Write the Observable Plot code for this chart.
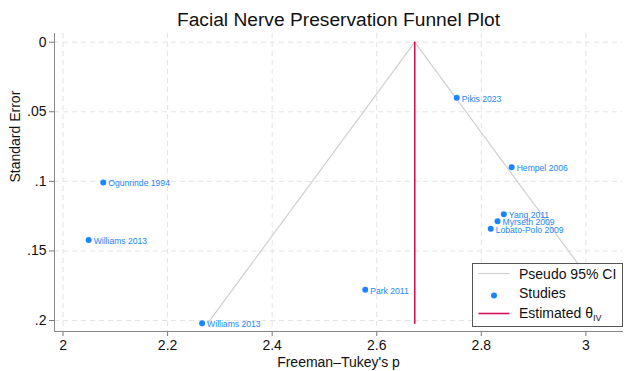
<!DOCTYPE html>
<html>
<head>
<meta charset="utf-8">
<script src="https://cdn.jsdelivr.net/npm/d3@7"></script>
<script src="https://cdn.jsdelivr.net/npm/@observablehq/plot@0.6"></script>
<style>
  html, body { margin: 0; padding: 0; background: #fff; }
  #chart svg { display: block; }
</style>
</head>
<body>
<div id="chart"></div>
<script>
// ---- data ----
const studies = ["Pikis 2023", "Hempel 2006", "Ogunrinde 1994", "Williams 2013", "Williams 2013",
                 "Park 2011", "Yang 2011", "Myrseth 2009", "Lobato-Polo 2009"];
const effect  = [2.753, 2.858, 2.077, 2.049, 2.266, 2.578, 2.843, 2.831, 2.818];
const stdErr  = [0.0400, 0.0898, 0.1008, 0.1422, 0.2019, 0.1779, 0.1236, 0.1286, 0.1341];
const thetaIV = 2.6727;
const xTicks = [2, 2.2, 2.4, 2.6, 2.8, 3];
const yTicks = [0, 0.05, 0.1, 0.15, 0.2];

const titleText = "Facial Nerve Preservation Funnel Plot";
const xLabel = "Freeman\u2013Tukey's p";
const yLabel = "Standard Error";

// ---- derived ----
const points = studies.map((s, i) => ({study: s, es: effect[i], se: stdErr[i]}));
const seMax = d3.max(stdErr);
const funnel = [
  {x: thetaIV - 1.96 * seMax, y: seMax},
  {x: thetaIV, y: 0},
  {x: thetaIV + 1.96 * seMax, y: seMax}
];
const estLine = [{x: thetaIV, y: 0}, {x: thetaIV, y: seMax}];

const blue = "#1a85ff";
const red = "#d41159";
const gray = "#cfcfcf";
const font = "'Liberation Sans', Arial, Helvetica, sans-serif";

const W = 624, H = 371;
const mL = 54, mT = 33, mB = 40, mR = 2;

const yFmt = d => d === 0 ? "0" : String(d).replace(/^0/, "");
const xFmt = d => String(d);

const chart = Plot.plot({
  width: W, height: H,
  marginLeft: mL, marginTop: mT, marginBottom: mB, marginRight: mR,
  style: {fontFamily: font, background: "#fff", overflow: "visible"},
  x: {domain: [1.9837, 3.070]},
  y: {domain: [-0.00625, 0.2079], reverse: true},
  marks: [
    Plot.gridX(xTicks, {stroke: "#e3e3e3", strokeOpacity: 1, strokeDasharray: "5,4"}),
    Plot.gridY(yTicks, {stroke: "#e3e3e3", strokeOpacity: 1, strokeDasharray: "5,4"}),
    Plot.axisX(xTicks, {tickSize: 5, tickPadding: 4, fontSize: 14, stroke: "#777", fill: "#111", label: null, tickFormat: xFmt}),
    Plot.axisY(yTicks, {tickSize: 5, tickPadding: 3, fontSize: 14, stroke: "#777", fill: "#111", label: null, tickFormat: yFmt}),
    Plot.frame({anchor: "left", stroke: "#888"}),
    Plot.frame({anchor: "bottom", stroke: "#888"}),
    Plot.line(funnel, {x: "x", y: "y", stroke: gray, strokeWidth: 1.2}),
    Plot.line(estLine, {x: "x", y: "y", stroke: red, strokeWidth: 1.6}),
    Plot.dot(points, {x: "es", y: "se", r: 3, fill: blue, stroke: "none"}),
    Plot.text(points, {x: "es", y: "se", text: "study", dx: 5, dy: 1, textAnchor: "start", fontSize: 8.6, fill: blue}),
    Plot.text([titleText], {frameAnchor: "top", dy: -14, fontSize: 19.2, fill: "#111", lineAnchor: "middle"}),
    Plot.text([xLabel], {frameAnchor: "bottom", dy: 31, fontSize: 14, fill: "#111", lineAnchor: "middle"}),
    Plot.text([yLabel], {frameAnchor: "left", dx: -39, rotate: -90, fontSize: 14, fill: "#111", lineAnchor: "middle"})
  ]
});

// ---- legend ----
const svg = d3.select(chart);
const lg = svg.append("g").attr("transform", "translate(472.5,263.5)");
lg.append("rect").attr("width", 150).attr("height", 63).attr("fill", "#fff").attr("stroke", "#555").attr("stroke-width", 1);
lg.append("line").attr("x1", 6).attr("x2", 37).attr("y1", 10).attr("y2", 10).attr("stroke", gray).attr("stroke-width", 1.2);
lg.append("circle").attr("cx", 21.5).attr("cy", 32).attr("r", 3).attr("fill", blue);
lg.append("line").attr("x1", 6).attr("x2", 37).attr("y1", 50).attr("y2", 50).attr("stroke", red).attr("stroke-width", 1.6);
const tx = lg.append("g").attr("font-family", font).attr("font-size", 14).attr("fill", "#111").attr("text-anchor", "start");
tx.append("text").attr("x", 46.5).attr("y", 15).text("Pseudo 95% CI");
tx.append("text").attr("x", 46.5).attr("y", 34.5).text("Studies");
const est = tx.append("text").attr("x", 46.5).attr("y", 54.5);
est.append("tspan").text("Estimated \u03B8");
est.append("tspan").attr("font-size", 9).attr("dy", 3).text("IV");

document.getElementById("chart").appendChild(chart);
</script>
</body>
</html>
